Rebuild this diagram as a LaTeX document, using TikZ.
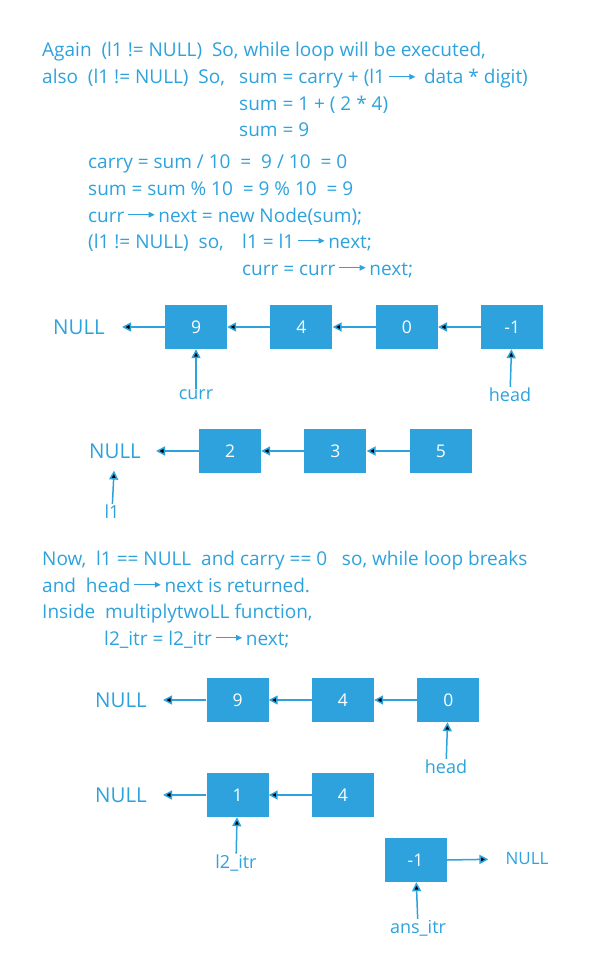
\documentclass[tikz,border=0pt]{standalone}
\usepackage{fontspec}
\setmainfont{Open Sans}
\usetikzlibrary{arrows.meta, positioning}
\usepackage{xcolor}
\definecolor{llblue}{RGB}{45,162,220}

% small pointer arrow used inside the text lines
\newcommand{\nxt}{\,\tikz[baseline]\draw[llblue, line width=1.1pt, -{Triangle[length=6pt,width=5.5pt]}] (0,0.38em) -- (1.4em,0.38em);\,}

\tikzset{
  txt/.style={anchor=base west, inner sep=0, text=llblue, font=\fontsize{19}{22}\selectfont},
  cell/.style={fill=llblue, minimum width=62pt, minimum height=44pt, inner sep=0, text=white, font=\fontsize{17.5}{20}\selectfont},
  nul/.style={text=llblue, inner sep=0, font=\fontsize{20.5}{24}\selectfont},
  tag/.style={text=llblue, inner sep=1pt, font=\fontsize{18}{21}\selectfont},
  ptr/.style={draw=llblue, line width=1.5pt, -{Triangle[length=9pt,width=9pt]}}
}

\begin{document}
\begin{tikzpicture}[x=1pt, y=-1pt, node distance=43pt]
  \useasboundingbox (0,0) rectangle (595,960);

  % first text block
  \node[txt] (t1) at (42,57) {Again\ \ (l1 != NULL)\ \ So, while loop will be executed,};
  \node[txt] (t2) at (42,84) {also\ \ (l1 != NULL)\ \ So,};
  \node[txt] (t3) at (239,84) {sum = carry + (l1\nxt\ data * digit)};
  \node[txt] (t4) at (239,111) {sum = 1 + ( 2 * 4)};
  \node[txt] (t5) at (239,137) {sum = 9};
  \node[txt] (t6) at (88,169) {carry = sum / 10\ \ =\ \ 9 / 10\ \ = 0};
  \node[txt] (t7) at (88,196) {sum = sum \% 10\ \ = 9 \% 10\ \ = 9};
  \node[txt] (t8) at (88,222) {curr\nxt next = new Node(sum);};
  \node[txt] (t9) at (88,248) {(l1 != NULL)\ \ so,};
  \node[txt] (t10) at (242,248) {l1 = l1\nxt next;};
  \node[txt] (t11) at (242,275) {curr = curr\nxt next;};

  % result list
  \node[cell] (r1a) at (196,327) {9};
  \node[cell, right=of r1a] (r1b) {4};
  \node[cell, right=of r1b] (r1c) {0};
  \node[cell, right=of r1c] (r1d) {-1};
  \node[nul] (n1) at (79,327) {NULL};
  \draw[ptr, shorten >=17pt] (r1a.west) -- (n1.east);
  \draw[ptr] (r1b) -- (r1a);
  \draw[ptr] (r1c) -- (r1b);
  \draw[ptr] (r1d) -- (r1c);
  \node[tag] (curr) at (196,395) {curr};
  \node[tag] (head) at (510,395) {head};
  \draw[ptr] (curr) -- (r1a);
  \draw[ptr] (head) -- (r1d);

  % list l1
  \node[cell] (r2a) at (230,451) {2};
  \node[cell, right=of r2a] (r2b) {3};
  \node[cell, right=of r2b] (r2c) {5};
  \node[nul] (n2) at (115,451) {NULL};
  \draw[ptr, shorten >=15pt] (r2a.west) -- (n2.east);
  \draw[ptr] (r2b) -- (r2a);
  \draw[ptr] (r2c) -- (r2b);
  \node[tag] (l1) at (112,512) {l1};
  \draw[ptr, shorten >=12pt] (l1) -- (n2);

  % second text block
  \node[txt] (s1) at (42,565) {Now,\ \ l1 == NULL\ \ and carry == 0\ \ \ so, while loop breaks};
  \node[txt] (s2) at (42,592) {and\ \ head\nxt next is returned.};
  \node[txt] (s3) at (42,618) {Inside\ \ multiplytwoLL function,};
  \node[txt] (s4) at (104,645) {l2\_itr = l2\_itr\nxt next;};

  % returned list
  \node[cell] (r3a) at (237.5,700) {9};
  \node[cell, right=of r3a] (r3b) {4};
  \node[cell, right=of r3b] (r3c) {0};
  \node[nul] (n3) at (121,700) {NULL};
  \draw[ptr, shorten >=16pt] (r3a.west) -- (n3.east);
  \draw[ptr] (r3b) -- (r3a);
  \draw[ptr] (r3c) -- (r3b);
  \node[tag] (head2) at (446,767) {head};
  \draw[ptr] (head2) -- (r3c);

  % list l2
  \node[cell] (r4a) at (237.5,795) {1};
  \node[cell, right=of r4a] (r4b) {4};
  \node[nul] (n4) at (121,795) {NULL};
  \draw[ptr, shorten >=16pt] (r4a.west) -- (n4.east);
  \draw[ptr] (r4b) -- (r4a);
  \node[tag] (l2itr) at (236,863) {l2\_itr};
  \draw[ptr] (l2itr) -- (r4a);

  % answer list
  \node[cell] (r5a) at (415.5,860) {-1};
  \node[tag, font=\fontsize{17}{20}\selectfont, inner sep=0] (n5) at (527,859) {NULL};
  \draw[ptr, shorten >=17pt] (r5a.east) -- (n5.west);
  \node[tag] (ans) at (418,928) {ans\_itr};
  \draw[ptr] (ans) -- (r5a);
\end{tikzpicture}
\end{document}
